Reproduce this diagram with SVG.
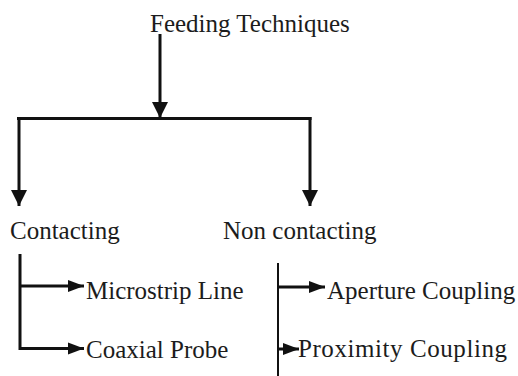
<svg xmlns="http://www.w3.org/2000/svg" width="518" height="376" viewBox="0 0 518 376">
  <defs>
    <marker id="big" markerUnits="userSpaceOnUse" markerWidth="16" markerHeight="18" viewBox="0 0 16 18" refX="16" refY="9" orient="auto">
      <path d="M0,1 L16,9 L0,17 Z" fill="#111"/>
    </marker>
    <marker id="small" markerUnits="userSpaceOnUse" markerWidth="16" markerHeight="14" viewBox="0 0 16 14" refX="16" refY="7" orient="auto">
      <path d="M0,1 L16,7 L0,13 Z" fill="#111"/>
    </marker>
  </defs>
  <style>
    text { font-family: "Liberation Serif", "Times New Roman", serif; font-size: 25px; fill: #1c1c1c; }
    .ln { stroke: #111; fill: none; stroke-width: 3; }
    .thin { stroke: #111; fill: none; stroke-width: 2; }
  </style>
  <rect width="518" height="376" fill="#ffffff"/>
  <g id="connectors">
    <line class="ln" x1="160" y1="34" x2="160" y2="118" marker-end="url(#big)"/>
    <line class="ln" x1="17" y1="118.5" x2="311.5" y2="118.5"/>
    <line class="ln" x1="19" y1="117" x2="19" y2="206" marker-end="url(#big)"/>
    <line class="ln" x1="310" y1="117" x2="310" y2="206" marker-end="url(#big)"/>
    <polyline class="ln" points="20,254 20,348.5 84,348.5" marker-end="url(#small)"/>
    <line class="ln" x1="20" y1="286" x2="84" y2="286" marker-end="url(#small)"/>
    <line class="thin" x1="278" y1="263" x2="278" y2="376"/>
    <line class="ln" x1="278" y1="287" x2="325" y2="287" marker-end="url(#small)"/>
    <line class="ln" x1="278" y1="349" x2="299" y2="349" marker-end="url(#small)"/>
  </g>
  <g id="node-feeding"><text x="150" y="32">Feeding Techniques</text></g>
  <g id="node-contacting"><text x="10" y="239">Contacting</text></g>
  <g id="node-noncontacting"><text x="223" y="239">Non contacting</text></g>
  <g id="node-microstrip"><text x="86" y="299">Microstrip Line</text></g>
  <g id="node-coaxial"><text x="86" y="358">Coaxial Probe</text></g>
  <g id="node-aperture"><text x="327" y="299">Aperture Coupling</text></g>
  <g id="node-proximity"><text x="298" y="357" textLength="209" lengthAdjust="spacing">Proximity Coupling</text></g>
</svg>
